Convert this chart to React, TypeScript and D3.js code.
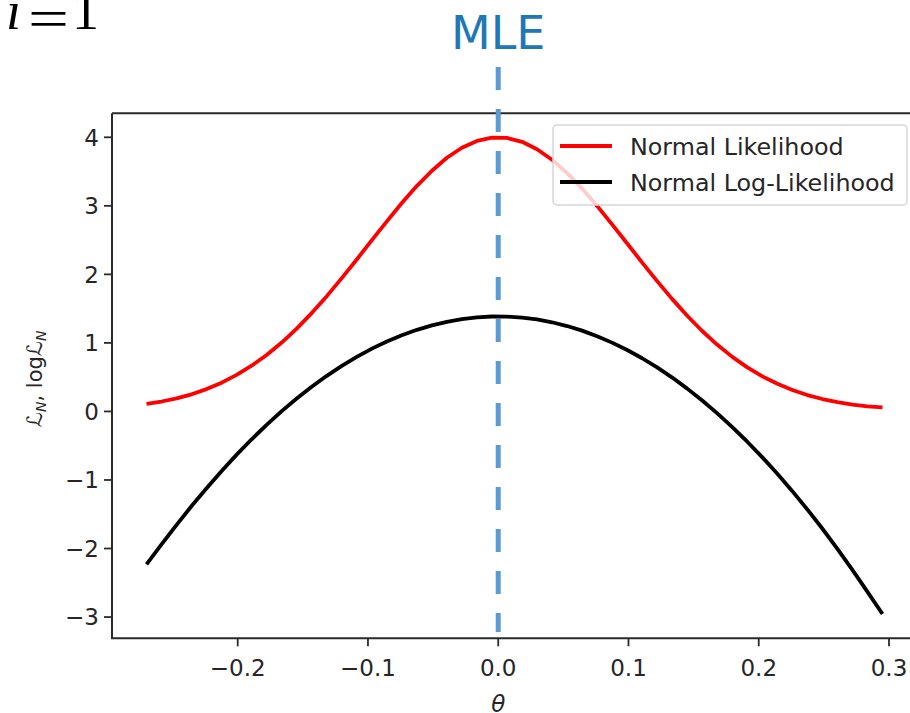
import React from 'react';
import * as d3 from 'd3';

// theta grid of the plotted curves
const theta = [
  -0.27, -0.2585, -0.2469, -0.2354, -0.2239, -0.2123, -0.2008, -0.1893, -0.1778, -0.1662,
  -0.1547, -0.1432, -0.1316, -0.1201, -0.1086, -0.097, -0.0855, -0.074, -0.0624, -0.0509,
  -0.0394, -0.0279, -0.0163, -0.0048, 0.0067, 0.0183, 0.0298, 0.0413, 0.0529, 0.0644,
  0.0759, 0.0874, 0.099, 0.1105, 0.122, 0.1336, 0.1451, 0.1566, 0.1682, 0.1797,
  0.1912, 0.2028, 0.2143, 0.2258, 0.2373, 0.2489, 0.2604, 0.2719, 0.2835, 0.295
];
// Normal Likelihood (red)
const likelihood = [
  0.11, 0.145, 0.19, 0.25, 0.326, 0.42, 0.533, 0.667, 0.823, 1.005,
  1.208, 1.435, 1.682, 1.945, 2.217, 2.5, 2.774, 3.042, 3.292, 3.512,
  3.701, 3.847, 3.947, 3.995, 3.991, 3.934, 3.826, 3.673, 3.478, 3.251,
  2.999, 2.73, 2.451, 2.172, 1.901, 1.639, 1.396, 1.174, 0.972, 0.796,
  0.643, 0.512, 0.403, 0.313, 0.239, 0.181, 0.135, 0.1, 0.075, 0.06
];
// Normal Log-Likelihood (black)
const logLikelihood = [
  -2.23, -1.94, -1.655, -1.38, -1.12, -0.868, -0.63, -0.406, -0.195, 0.005,
  0.189, 0.361, 0.52, 0.665, 0.796, 0.916, 1.02, 1.112, 1.191, 1.256,
  1.308, 1.347, 1.373, 1.385, 1.384, 1.369, 1.342, 1.301, 1.246, 1.179,
  1.098, 1.004, 0.896, 0.776, 0.642, 0.494, 0.333, 0.16, -0.029, -0.229,
  -0.442, -0.67, -0.91, -1.163, -1.43, -1.712, -2.004, -2.311, -2.633, -2.955
];
const xTicks = [-0.2, -0.1, 0.0, 0.1, 0.2, 0.3];
const yTicks = [-3, -2, -1, 0, 1, 2, 3, 4];
const mle = 0.0;
const legendNames = ['Normal Likelihood', 'Normal Log-Likelihood'];
const colors = ['#ff0000', '#000000'];

const W = 910;
const H = 713;
const font = 'DejaVu Sans, sans-serif';
const serif = 'Liberation Serif, DejaVu Serif, serif';

const fmt = (v: number, digits: number) => v.toFixed(digits).replace('-', '\u2212');

export default function App() {
  const x = d3.scaleLinear().domain([-0.2965, 0.3238]).range([112, 920]);
  const y = d3.scaleLinear().domain([-3.31, 4.35]).range([638.3, 113.3]);
  const [x0, x1] = x.range();
  const [y0, y1] = y.range();

  const line = d3.line<number>()
    .x((d, i) => x(theta[i]))
    .y(d => y(d));

  const series = [likelihood, logLikelihood];

  return (
    <svg width={W} height={H} style={{ position: 'absolute', left: 0, top: 0, background: '#fff' }}>
      <rect x={0} y={0} width={W} height={H} fill="#fff" />

      {/* summation subscript, cut at the top of the picture */}
      <g fill="#000" fontFamily={serif}>
        <text x={6} y={29} fontSize={54} fontStyle="italic">i</text>
        <text x={28} y={37} fontSize={54} textLength={41} lengthAdjust="spacingAndGlyphs">=</text>
        <text x={72} y={29} fontSize={54}>1</text>
      </g>

      {/* curves */}
      {series.map((s, i) => (
        <path key={i} d={line(s) || ''} fill="none" stroke={colors[i]} strokeWidth={3.8}
          strokeLinejoin="round" strokeLinecap="butt" />
      ))}

      {/* spines */}
      <path d={`M${x0},${y1}V${y0}H${x1}M${x0},${y1}H${x1}V${y0}`} fill="none" stroke="#2a2a2a" strokeWidth={2} />

      {/* y axis */}
      {yTicks.map(t => (
        <g key={t}>
          <line x1={x0 - 8} x2={x0} y1={y(t)} y2={y(t)} stroke="#2a2a2a" strokeWidth={1.8} />
          <text x={x0 - 13} y={y(t)} dy="0.36em" textAnchor="end" fontFamily={font} fontSize={23} fill="#262626">
            {fmt(t, 0)}
          </text>
        </g>
      ))}

      {/* x axis */}
      {xTicks.map(t => (
        <g key={t}>
          <line x1={x(t)} x2={x(t)} y1={y0} y2={y0 + 8} stroke="#2a2a2a" strokeWidth={1.8} />
          <text x={x(t)} y={y0 + 38} textAnchor="middle" fontFamily={font} fontSize={23} fill="#262626">
            {fmt(t, 1)}
          </text>
        </g>
      ))}

      <text x={x(0)} y={712} textAnchor="middle" fontFamily={font} fontStyle="italic" fontSize={23} fill="#262626">θ</text>

      {/* y label */}
      <text transform={`translate(42,${(y0 + y1) / 2 + 3}) rotate(-90)`} textAnchor="middle"
        fontFamily={font} fontSize={21} fill="#262626">
        <tspan fontStyle="italic">ℒ</tspan>
        <tspan fontSize={14} fontStyle="italic" dy={4}>N</tspan>
        <tspan dy={-4}>, log</tspan>
        <tspan fontStyle="italic">ℒ</tspan>
        <tspan fontSize={14} fontStyle="italic" dy={4}>N</tspan>
      </text>

      {/* MLE marker */}
      <line x1={x(mle)} x2={x(mle)} y1={67} y2={632} stroke="#5b9bd5" strokeWidth={5} strokeDasharray="23 19" />
      <text x={x(mle)} y={49} textAnchor="middle" fontFamily={font} fontSize={46} fill="#1f77b4">MLE</text>

      {/* legend */}
      <g>
        <rect x={553} y={125} width={354} height={80} rx={4} fill="#fff" fillOpacity={0.8} stroke="#d6d6d6" strokeWidth={1.5} />
        {legendNames.map((n, i) => (
          <g key={n} transform={`translate(0,${146 + i * 36})`}>
            <line x1={560} x2={612} y1={0} y2={0} stroke={colors[i]} strokeWidth={3.8} />
            <text x={630} y={0} dy="0.36em" fontFamily={font} fontSize={23.8} fill="#262626">{n}</text>
          </g>
        ))}
      </g>
    </svg>
  );
}
